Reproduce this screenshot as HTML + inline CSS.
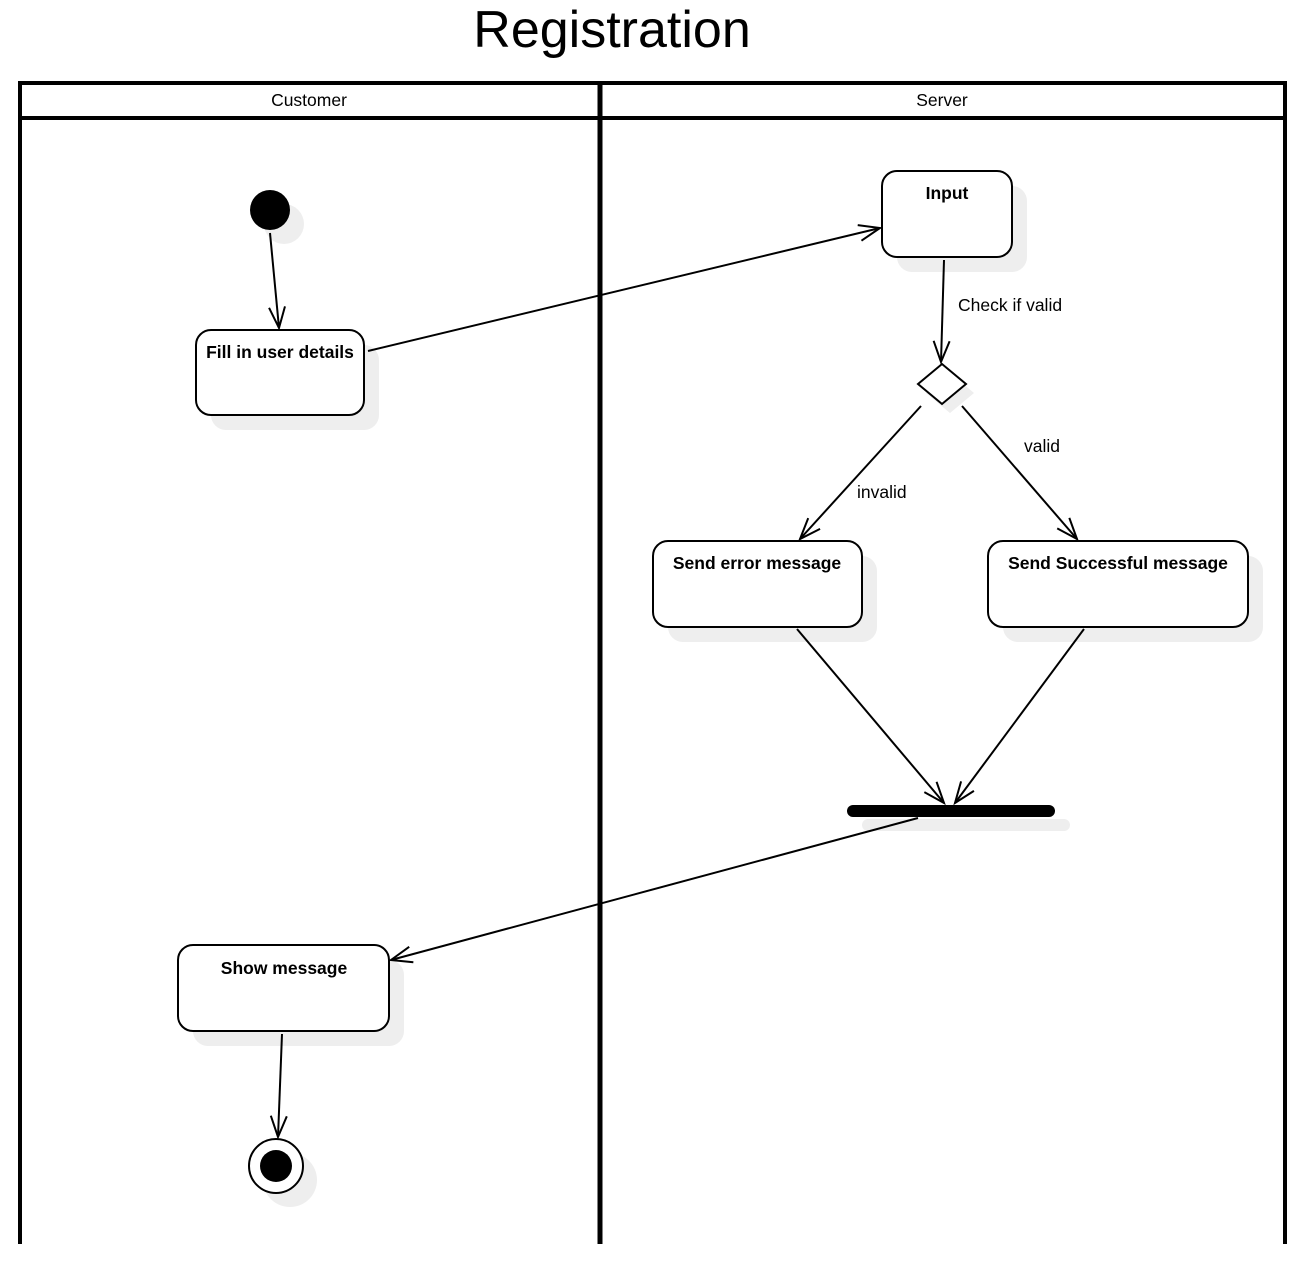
<!DOCTYPE html>
<html><head><meta charset="utf-8"><style>
html,body{margin:0;padding:0;background:#fff;}
svg{display:block;}
text{font-family:"Liberation Sans",sans-serif;}
</style></head><body>
<svg width="1304" height="1266" viewBox="0 0 1304 1266" xmlns="http://www.w3.org/2000/svg">
<defs>
<marker id="a" markerUnits="userSpaceOnUse" markerWidth="30" markerHeight="30" refX="22" refY="10" orient="auto">
<path d="M1,2 L22,10 L1,18" fill="none" stroke="#000" stroke-width="2"/>
</marker>
</defs>
<text x="612" y="47" font-size="52" text-anchor="middle">Registration</text>
<g stroke="#000" fill="none">
<line x1="18" y1="83" x2="1287" y2="83" stroke-width="4"/>
<line x1="18" y1="118" x2="1287" y2="118" stroke-width="4"/>
<line x1="20" y1="81" x2="20" y2="1244" stroke-width="4"/>
<line x1="600" y1="81" x2="600" y2="1244" stroke-width="5"/>
<line x1="1285" y1="81" x2="1285" y2="1244" stroke-width="4"/>
</g>
<text x="309" y="106" font-size="17.5" text-anchor="middle">Customer</text>
<text x="942" y="106" font-size="17.5" text-anchor="middle">Server</text>
<g fill="#eeeeee">
<circle cx="284" cy="224" r="20"/>
<rect x="211" y="345" width="168" height="85" rx="15"/>
<rect x="897" y="186" width="130" height="86" rx="15"/>
<polygon points="926,393 950,373 974,393 950,413"/>
<rect x="668" y="556" width="209" height="86" rx="15"/>
<rect x="1003" y="556" width="260" height="86" rx="15"/>
<rect x="862" y="819" width="208" height="12" rx="6"/>
<rect x="193" y="960" width="211" height="86" rx="15"/>
<circle cx="290" cy="1180" r="27"/>
</g>
<g stroke="#000" stroke-width="2" fill="#fff">
<circle cx="270" cy="210" r="20" fill="#000" stroke="none"/>
<rect x="196" y="330" width="168" height="85" rx="15"/>
<rect x="882" y="171" width="130" height="86" rx="15"/>
<polygon points="918,384 942,364 966,384 942,404"/>
<rect x="653" y="541" width="209" height="86" rx="15"/>
<rect x="988" y="541" width="260" height="86" rx="15"/>
<rect x="178" y="945" width="211" height="86" rx="15"/>
<circle cx="276" cy="1166" r="27"/>
</g>
<rect x="847" y="805" width="208" height="12" rx="6" fill="#000"/>
<circle cx="276" cy="1166" r="16" fill="#000"/>
<g font-size="17.5" font-weight="bold" text-anchor="middle">
<text x="280" y="358">Fill in user details</text>
<text x="947" y="199">Input</text>
<text x="757" y="569">Send error message</text>
<text x="1118" y="569">Send Successful message</text>
<text x="284" y="974">Show message</text>
</g>
<g stroke="#000" stroke-width="2" fill="none" marker-end="url(#a)">
<line x1="270" y1="233" x2="279" y2="328"/>
<line x1="368" y1="351" x2="880" y2="228"/>
<line x1="944" y1="260" x2="941" y2="362"/>
<line x1="921" y1="406" x2="800" y2="539"/>
<line x1="962" y1="406" x2="1077" y2="539"/>
<line x1="797" y1="629" x2="944" y2="803"/>
<line x1="1084" y1="629" x2="955" y2="803"/>
<line x1="918" y1="818" x2="391" y2="960"/>
<line x1="282" y1="1034" x2="278" y2="1137"/>
</g>
<g font-size="17.5">
<text x="958" y="311">Check if valid</text>
<text x="857" y="498">invalid</text>
<text x="1024" y="452">valid</text>
</g>
</svg>
</body></html>
